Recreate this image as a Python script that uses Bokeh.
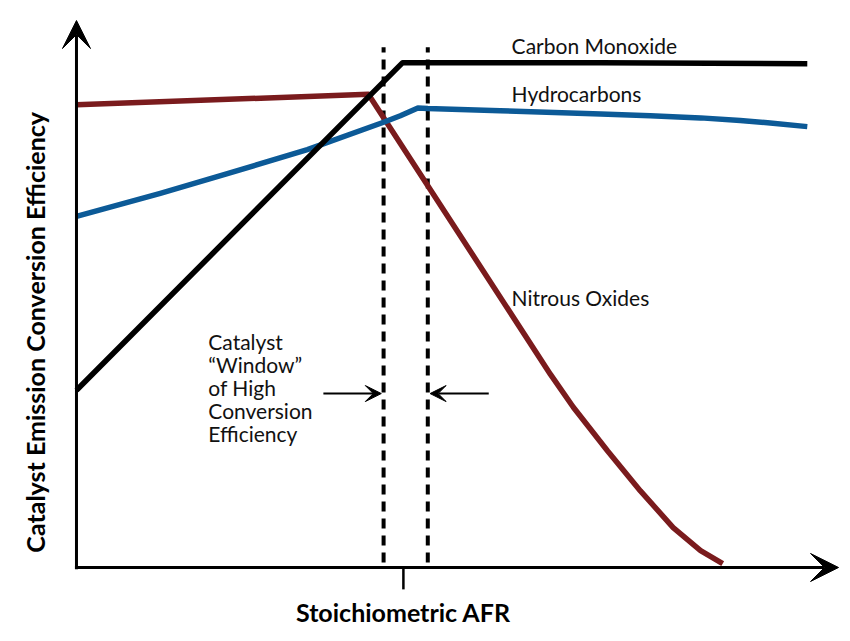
import math
from bokeh.plotting import figure
from bokeh.models import Range1d, Label, Arrow, VeeHead
from bokeh.embed import file_html
from bokeh.resources import INLINE

# ---- data (x: relative AFR position 0-100, y: conversion efficiency 0-100) ----
co_x = [0.0, 42.8, 68.8, 95.9]
co_y = [32.4, 92.3, 92.3, 92.1]

hc_x = [0.0, 11.0, 19.8, 30.3, 40.3, 42.5, 44.8, 46.1, 55.6, 68.8, 75.3, 81.9, 87.1, 90.7, 95.9]
hc_y = [64.2, 68.4, 72.0, 76.4, 81.4, 82.6, 84.0, 83.9, 83.5, 82.9, 82.6, 82.2, 81.7, 81.3, 80.6]

nox_x = [0.0, 38.3, 62.2, 65.2, 69.7, 74.0, 78.3, 81.9, 84.8]
nox_y = [84.6, 86.5, 35.3, 29.3, 21.3, 14.0, 7.3, 3.1, 0.7]

stoich_x = 42.9
window_x = [40.3, 46.1]

series_labels = ["Carbon Monoxide", "Hydrocarbons", "Nitrous Oxides"]
window_text = ["Catalyst", "\u201cWindow\u201d", "of High", "Conversion", "Efficiency"]
x_title = "Stoichiometric AFR"
y_title = "Catalyst Emission Conversion Efficiency"

RED = "#7a1b1d"
BLUE = "#0c5a97"
FONT = "Lato"

p = figure(width=850, height=641, output_backend="svg", toolbar_location=None,
           x_axis_type=None, y_axis_type=None, min_border=0,
           x_range=Range1d(-9.97, 101.57), y_range=Range1d(-13.53, 103.66))
p.outline_line_color = None
p.xgrid.visible = False
p.ygrid.visible = False
p.background_fill_color = "white"
p.border_fill_color = "white"

# axes with arrow heads
p.add_layout(Arrow(end=VeeHead(size=28, fill_color="black", line_color="black"),
                   x_start=0, y_start=-0.3, x_end=0, y_end=100, line_width=3, line_color="black"))
p.add_layout(Arrow(end=VeeHead(size=28, fill_color="black", line_color="black"),
                   x_start=-0.2, y_start=0, x_end=100, y_end=0, line_width=3, line_color="black"))

# stoichiometric tick
p.segment(x0=[stoich_x], y0=[0], x1=[stoich_x], y1=[-4.0], line_color="black", line_width=2.5)

# window dashed lines
p.segment(x0=window_x, y0=[0.9, 0.9], x1=window_x, y1=[95.1, 95.1],
          line_color="black", line_width=4, line_dash="10 7")

# curves
p.line(nox_x, nox_y, line_color=RED, line_width=5.5, line_join="round")
p.line(hc_x, hc_y, line_color=BLUE, line_width=5.5, line_join="round")
p.line(co_x, co_y, line_color="black", line_width=5.5, line_join="round")

# window arrows
p.add_layout(Arrow(end=VeeHead(size=16, fill_color="black", line_color="black"),
                   x_start=32.4, y_start=31.8, x_end=40.0, y_end=31.8, line_width=2))
p.add_layout(Arrow(end=VeeHead(size=16, fill_color="black", line_color="black"),
                   x_start=54.1, y_start=31.8, x_end=46.4, y_end=31.8, line_width=2))

# series labels
for txt, (lx, ly) in zip(series_labels, [(57.1, 95.4), (57.1, 86.7), (57.1, 49.4)]):
    p.add_layout(Label(x=lx, y=ly, text=txt, text_font=FONT, text_font_size="21px",
                       text_align="left", text_baseline="middle", text_color="#111111"))

for i, txt in enumerate(window_text):
    p.add_layout(Label(x=17.3, y=41.3, y_offset=-23 * i, text=txt, text_font=FONT,
                       text_font_size="21px", text_align="left", text_baseline="middle",
                       text_color="#111111"))

# axis titles
p.add_layout(Label(x=stoich_x, y=-8.2, text=x_title, text_font=FONT, text_font_size="25px",
                   text_font_style="bold", text_align="center", text_baseline="middle",
                   text_color="black"))
p.add_layout(Label(x=-5.38, y=43.0, text=y_title, text_font=FONT, text_font_size="25px",
                   text_font_style="bold", text_align="center", text_baseline="middle",
                   text_color="black", angle=math.pi / 2))

open("out.html", "w").write(file_html(p, INLINE))
